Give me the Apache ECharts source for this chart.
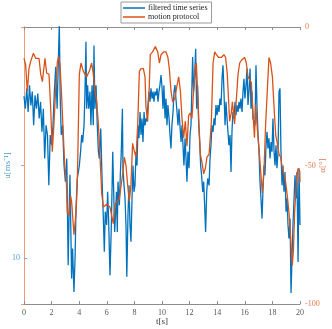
<!DOCTYPE html>
<html>
<head>
<meta charset="utf-8">
<script src="https://cdn.jsdelivr.net/npm/echarts@6/dist/echarts.min.js"></script>
<style>
  html, body { margin: 0; padding: 0; background: #fff; }
  #chart { width: 332px; height: 329px; }
</style>
</head>
<body>
<div id="chart"></div>
<script>
// filtered time series u [m/s], t in s
const blueT = [
  0.0, 0.1, 0.2, 0.3, 0.4, 0.5, 0.6, 0.7, 0.8, 0.9, 1.0, 1.1, 1.2, 1.3, 1.4, 1.5, 1.6, 1.7, 1.8, 1.9,
  2.0, 2.1, 2.2, 2.3, 2.4, 2.5, 2.56, 2.62, 2.7, 2.8, 2.9, 3.0, 3.1, 3.2, 3.27, 3.33, 3.45, 3.52, 3.62, 3.7,
  3.77, 3.86, 3.94, 4.01, 4.1, 4.18, 4.25, 4.35, 4.42, 4.49, 4.54, 4.61, 4.69, 4.78, 4.85, 4.93, 5.02, 5.07, 5.14, 5.22,
  5.31, 5.39, 5.46, 5.56, 5.63, 5.7, 5.75, 5.82, 5.89, 5.99, 6.06, 6.13, 6.23, 6.33, 6.43, 6.5, 6.57, 6.64, 6.7, 6.76,
  6.81, 6.91, 6.98, 7.05, 7.13, 7.17, 7.25, 7.32, 7.39, 7.45, 7.54, 7.61, 7.68, 7.75, 7.83, 7.9, 7.97, 8.04, 8.12, 8.19,
  8.26, 8.33, 8.41, 8.48, 8.55, 8.62, 8.7, 8.77, 8.84, 8.91, 8.98, 9.06, 9.13, 9.2, 9.28, 9.35, 9.42, 9.49, 9.57, 9.64,
  9.71, 9.78, 9.85, 9.93, 10.0, 10.07, 10.14, 10.22, 10.29, 10.36, 10.43, 10.51, 10.58, 10.65, 10.72, 10.8, 10.87, 10.94, 11.01, 11.09,
  11.16, 11.23, 11.3, 11.38, 11.45, 11.52, 11.59, 11.67, 11.74, 11.81, 11.88, 11.96, 12.03, 12.1, 12.17, 12.22, 12.29, 12.37, 12.44, 12.51,
  12.58, 12.66, 12.73, 12.8, 12.87, 12.95, 13.02, 13.09, 13.16, 13.24, 13.31, 13.41, 13.48, 13.55, 13.62, 13.7, 13.77, 13.84, 13.91, 13.99,
  14.06, 14.13, 14.2, 14.28, 14.35, 14.42, 14.49, 14.57, 14.64, 14.71, 14.78, 14.85, 14.93, 15.0, 15.07, 15.14, 15.22, 15.29, 15.36, 15.43,
  15.51, 15.58, 15.65, 15.72, 15.8, 15.87, 15.94, 16.01, 16.09, 16.16, 16.23, 16.3, 16.38, 16.45, 16.52, 16.59, 16.67, 16.74, 16.81, 16.88,
  16.96, 17.03, 17.1, 17.17, 17.25, 17.32, 17.39, 17.46, 17.54, 17.61, 17.68, 17.75, 17.83, 17.9, 17.97, 18.04, 18.12, 18.19, 18.26, 18.33,
  18.41, 18.48, 18.55, 18.62, 18.7, 18.77, 18.84, 18.91, 18.99, 19.06, 19.13, 19.2, 19.28, 19.35, 19.42, 19.49, 19.57, 19.64, 19.71, 19.78,
  19.86, 19.93, 20.0
];
const blueU = [
  45, 42.3, 46.7, 41.6, 47.4, 43, 46, 38.7, 45.2, 42.3, 45.6, 40.2, 43.8, 37.3, 42.3, 31.5, 38.7, 36.6, 25.7, 36.6,
  34.4, 38.7, 46, 51.4, 42.3, 54, 61, 45, 36.6, 38.7, 30, 26.5, 31.5, 8.4, 20, 28, 5.5, 12, 2.6, 10,
  20.7, 27.2, 28.6, 30, 33, 36.6, 35, 38.7, 46, 56.8, 42.3, 47.4, 42.3, 46, 38.7, 47.4, 38.7, 56, 42.3, 47.4,
  38.7, 33, 31.5, 38, 30, 22.9, 18.5, 11.3, 20, 17.1, 24.3, 18.5, 6.2, 17, 33, 24.3, 15.6, 20, 24.3, 15.6,
  26.5, 21.4, 28, 33, 42.3, 29.4, 25.7, 22.9, 17.1, 5.9, 20, 25.7, 17.1, 13.5, 22.9, 30, 24.3, 25.7, 33, 30,
  38.7, 35.9, 41.6, 36.6, 40.2, 35.1, 41.6, 38.7, 40.2, 39.5, 43.1, 46, 43.8, 46.7, 44.5, 46, 43.8, 46, 45.2, 46.7,
  43.8, 46, 47.4, 49.6, 47, 42.3, 47.4, 40.2, 44.5, 38.7, 43.1, 40.2, 36.6, 33.7, 38.7, 41.6, 46, 47.4, 44.5, 41.6,
  38.7, 42.3, 38.7, 35.1, 38.7, 34.4, 30, 35.9, 31.5, 26.5, 33, 29.4, 36.6, 38.7, 47.4, 53.5, 46, 49.6, 55.3, 42.3,
  47.4, 38.7, 35.1, 30, 27.9, 24.3, 26.5, 21.4, 15.6, 24.3, 27.2, 25.7, 31.5, 34.4, 38.7, 37.3, 40.2, 38.7, 43.1, 40.9,
  43.1, 41.6, 44.5, 43.1, 48.8, 51.7, 46, 38.7, 43.8, 40.2, 37.3, 34.4, 36.6, 28.6, 37.3, 41.6, 40.2, 43.8, 40.9, 43.1,
  41.6, 43.8, 42.3, 44.5, 41.6, 46, 48.8, 44.5, 47.4, 51, 43.1, 46, 51, 42.3, 46, 40.2, 39.5, 38.7, 51.7, 43.1,
  36.6, 33, 26.5, 22.9, 18.5, 25, 30, 27.9, 34.4, 37.3, 33.7, 35.9, 31.5, 35.1, 33, 40.2, 33, 30, 34.4, 29.4,
  33, 46, 46.7, 33, 25.7, 30, 24.3, 28.6, 20, 22.9, 17.1, 14.2, 18.5, 2.4, 9.9, 17.1, 22.9, 27.9, 22.9, 28.6,
  9.1, 29.4, 17.1
];

// motion protocol alpha [deg]
const alphaT = [
  0, 0.12, 0.24, 0.36, 0.48, 0.68, 0.85, 0.97, 1.09, 1.21, 1.33, 1.52, 1.64, 1.81, 1.93, 2.05, 2.17, 2.29, 2.42, 2.51,
  2.61, 2.71, 2.85, 2.95, 3.07, 3.14, 3.26, 3.38, 3.45, 3.62, 3.77, 3.86, 4.01, 4.13, 4.3, 4.54, 4.73, 4.9, 5.02, 5.14,
  5.27, 5.39, 5.51, 5.63, 5.75, 5.99, 6.23, 6.47, 6.59, 6.74, 6.91, 7.15, 7.27, 7.39, 7.51, 7.63, 7.75, 7.87, 8.0, 8.12,
  8.24, 8.36, 8.48, 8.65, 8.77, 8.84, 8.96, 9.08, 9.15, 9.32, 9.52, 9.69, 9.81, 9.93, 10.0, 10.12, 10.29, 10.43, 10.53, 10.65,
  10.77, 10.92, 11.09, 11.21, 11.33, 11.45, 11.57, 11.69, 11.81, 11.93, 12.05, 12.17, 12.29, 12.42, 12.49, 12.58, 12.66, 12.78, 12.9, 13.02,
  13.14, 13.26, 13.41, 13.57, 13.7, 13.82, 13.94, 14.11, 14.3, 14.49, 14.61, 14.73, 14.83, 14.9, 15.02, 15.1, 15.14, 15.26, 15.39, 15.51,
  15.63, 15.75, 15.87, 15.99, 16.11, 16.23, 16.35, 16.47, 16.59, 16.7, 16.79, 16.91, 17.03, 17.15, 17.27, 17.39, 17.51, 17.63, 17.75, 17.87,
  18.0, 18.12, 18.24, 18.36, 18.48, 18.6, 18.72, 18.84, 18.96, 19.08, 19.2, 19.32, 19.44, 19.52, 19.61, 19.76, 19.86, 19.98, 20.0
];
const alphaDeg = [
  -11.3, -13.7, -23.3, -15, -12.5, -9.5, -11.3, -10.7, -11.3, -17, -19.7, -11.3, -16.7, -17, -29, -45, -35, -23, -12.5, -10.7,
  -13.7, -23, -39, -50, -56, -67, -68, -61, -63, -75, -67, -57, -17, -13, -16, -18, -16, -13, -17, -23,
  -27, -35, -47, -60, -65, -64, -65, -71, -64, -63, -62, -53, -47, -50, -57, -63, -57, -42, -45, -47,
  -35, -16, -15, -15, -18, -29, -34, -21, -10, -9, -7, -9, -13, -10, -10, -9, -9, -11, -15, -23,
  -27, -26, -21, -18, -23, -33, -40, -34, -43, -32, -31, -33, -23, -14, -13, -23, -33, -46, -49, -53,
  -51, -47, -46, -35, -13, -9, -10, -11, -11, -10, -11, -17, -27, -34, -31, -27, -29, -35, -26, -17,
  -13, -12, -12, -11, -13, -18, -19, -20, -31, -40, -28, -37, -44, -52, -60, -52, -35, -23, -11, -13,
  -18, -29, -39, -42, -46, -47, -51, -51, -56, -61, -67, -76, -86, -81, -67, -54, -51, -52, -56
];

const xTicks = [0, 2, 4, 6, 8, 10, 12, 14, 16, 18, 20];
const uTicks = [10];

const blueColor = "#0072BD";
const orangeColor = "#D95319";
const serif = "Liberation Serif";

const chart = echarts.init(document.getElementById("chart"));
const option = {
  animation: false,
  textStyle: { fontFamily: serif },
  legend: {
    orient: "vertical",
    left: 121,
    top: 2,
    width: 83,
    padding: [2, 4, 2, 2],
    itemGap: 1,
    itemWidth: 22,
    itemHeight: 8,
    borderColor: "#9a9a9a",
    borderWidth: 1,
    backgroundColor: "#fff",
    icon: "path://M0,4 L22,4 L22,5.5 L0,5.5 Z",
    textStyle: { fontFamily: serif, fontSize: 8, color: "#222", padding: [0, 0, 0, -2] },
    data: ["filtered time series", "motion protocol"],
  },
  grid: { left: 24, right: 32, top: 27, bottom: 25, outerBoundsMode: "none", containLabel: false },
  xAxis: [
    {
      type: "value",
      min: 0,
      max: 20,
      interval: 2,
      name: "t[s]",
      nameLocation: "middle",
      nameGap: 13,
      nameMoveOverlap: false,
      nameTextStyle: { fontFamily: serif, fontSize: 9, color: "#333" },
      axisLine: { lineStyle: { color: "#8c8c8c", width: 1 } },
      axisTick: { inside: true, length: 3, lineStyle: { color: "#8c8c8c" }, customValues: xTicks },
      axisLabel: { margin: 5, fontSize: 8, color: "#555", fontFamily: serif, customValues: xTicks },
      splitLine: { show: false },
    },
    {
      type: "value",
      position: "top",
      min: 0,
      max: 20,
      interval: 2,
      axisLine: { lineStyle: { color: "#8c8c8c", width: 1 } },
      axisTick: { inside: true, length: 3, lineStyle: { color: "#8c8c8c" } },
      axisLabel: { show: false },
      splitLine: { show: false },
    },
  ],
  yAxis: [
    {
      type: "value",
      min: 0,
      max: 60,
      name: "u[ms⁻¹]",
      nameLocation: "middle",
      nameGap: 12,
      nameMoveOverlap: false,
      nameTextStyle: { fontFamily: serif, fontSize: 9, color: "#4a9fd8" },
      axisLine: { show: true, lineStyle: { color: "#6fb3e3", width: 1 } },
      axisTick: { inside: true, length: 3, lineStyle: { color: "#6fb3e3" }, customValues: uTicks },
      axisLabel: { margin: 4, fontSize: 8, color: "#4a9fd8", fontFamily: serif, customValues: uTicks },
      splitLine: { show: false },
    },
    {
      type: "value",
      position: "right",
      min: -100,
      max: 0,
      interval: 50,
      name: "α[°]",
      nameLocation: "middle",
      nameGap: 18,
      nameRotate: 90,
      nameMoveOverlap: false,
      nameTextStyle: { fontFamily: serif, fontSize: 9, color: "#e07a4c" },
      axisLine: { show: true, lineStyle: { color: "#ec9c78", width: 1 } },
      axisTick: { inside: true, length: 3, lineStyle: { color: "#ec9c78" } },
      axisLabel: { margin: 5, fontSize: 8, color: "#e07a4c", fontFamily: serif },
      splitLine: { show: false },
    },
  ],
  series: [
    {
      name: "filtered time series",
      type: "line",
      xAxisIndex: 0,
      yAxisIndex: 0,
      showSymbol: false,
      sampling: "none",
      clip: true,
      z: 3,
      itemStyle: { color: blueColor },
      lineStyle: { color: blueColor, width: 1.3 },
      data: blueT.map((t, i) => [t, blueU[i]]),
    },
    {
      name: "motion protocol",
      type: "line",
      xAxisIndex: 0,
      yAxisIndex: 1,
      showSymbol: false,
      clip: true,
      z: 4,
      itemStyle: { color: orangeColor },
      lineStyle: { color: orangeColor, width: 1.3 },
      data: alphaT.map((t, i) => [t, alphaDeg[i]]),
    },
  ],
};
chart.setOption(option);
</script>
</body>
</html>
